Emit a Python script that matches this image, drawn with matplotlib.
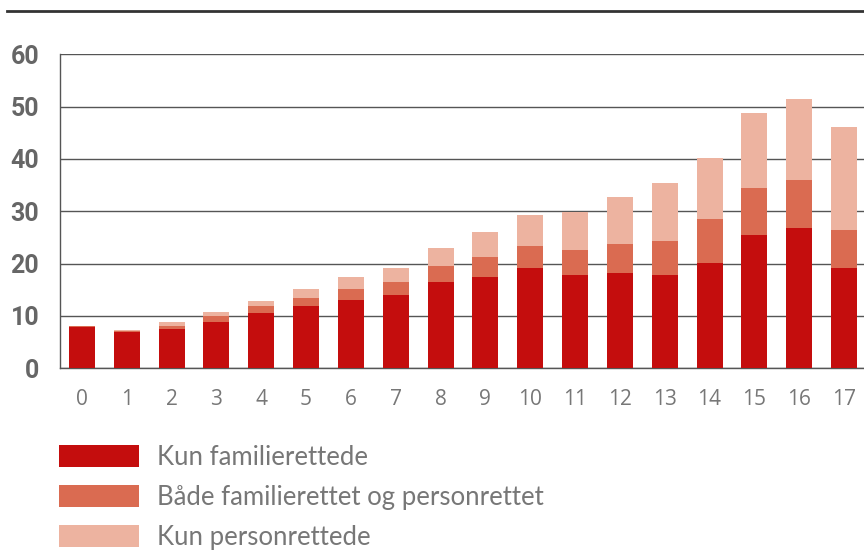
import matplotlib
matplotlib.use("Agg")
import matplotlib.pyplot as plt
from matplotlib.lines import Line2D
import numpy as np

# data
ages = [str(i) for i in range(18)]
kun_familie = [7.8, 6.9, 7.6, 8.8, 10.6, 11.9, 13.1, 14.0, 16.4, 17.5,
               19.2, 17.8, 18.2, 17.8, 20.2, 25.5, 26.9, 19.2]
begge = [0.2, 0.2, 0.5, 1.1, 1.4, 1.5, 2.0, 2.4, 3.2, 3.7,
         4.2, 4.8, 5.6, 6.6, 8.3, 9.0, 9.0, 7.2]
kun_person = [0.0, 0.2, 0.7, 0.9, 0.9, 1.7, 2.4, 2.7, 3.4, 4.9,
              5.9, 7.3, 8.9, 11.1, 11.6, 14.3, 15.5, 19.8]
labels = ["Kun familierettede", "Både familierettet og personrettet",
          "Kun personrettede"]
colors = ["#c40d0d", "#da6b51", "#edb3a0"]

fig = plt.figure(figsize=(8.64, 5.5), dpi=100)
ax = fig.add_axes([60 / 864, 181.7 / 550, 806 / 864, 314 / 550])

x = np.arange(len(ages))
w = 0.58
b1 = np.array(kun_familie)
b2 = b1 + np.array(begge)
h1 = ax.bar(x, kun_familie, w, color=colors[0], zorder=3)
h2 = ax.bar(x, begge, w, bottom=b1, color=colors[1], zorder=3)
h3 = ax.bar(x, kun_person, w, bottom=b2, color=colors[2], zorder=3)

ax.set_xlim(-0.49, 17.49)
ax.set_ylim(0, 60)
ax.set_yticks(range(0, 61, 10))
ax.set_xticks(x)
ax.set_xticklabels(ages)
ax.grid(axis="y", color="#555555", lw=1, zorder=1)
for s in ["top", "right"]:
    ax.spines[s].set_visible(False)
for s in ["left", "bottom"]:
    ax.spines[s].set_color("#555555")
    ax.spines[s].set_linewidth(1)
ax.axhline(60, color="#555555", lw=1.2, zorder=2)

ax.tick_params(axis="y", length=0, pad=15, labelsize=18, labelcolor="#666666")
for t in ax.get_yticklabels():
    t.set_fontweight("bold")
    t.set_family("Roboto")
ax.tick_params(axis="x", length=0, pad=15, labelsize=15, labelcolor="#777777")
for t in ax.get_xticklabels():
    t.set_family("Open Sans")

# top rule
fig.add_artist(Line2D([7 / 864, 1.0], [539 / 550, 539 / 550], color="#333333",
                      lw=2, transform=fig.transFigure))

fig.legend([h1, h2, h3], labels, loc="upper left",
           bbox_to_anchor=(59.3 / 864, 105 / 550), frameon=False,
           prop={"family": "Lato", "size": 18.5},
           labelcolor="#777777", handlelength=3.1, handleheight=0.9,
           labelspacing=0.58, handletextpad=0.72, borderpad=0,
           borderaxespad=0)

fig.savefig("out.png", dpi=100)
